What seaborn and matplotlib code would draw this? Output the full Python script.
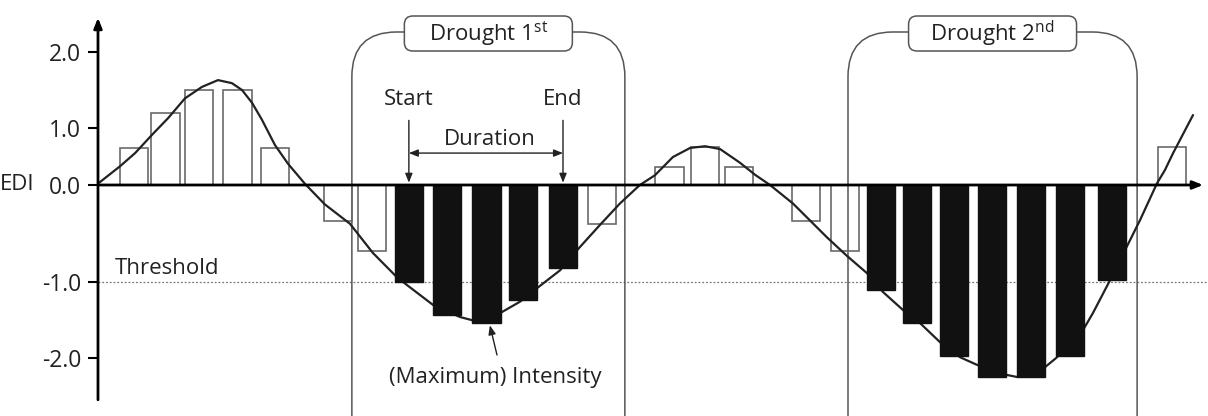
import numpy as np
import matplotlib
matplotlib.use("Agg")
import matplotlib.pyplot as plt
from matplotlib.patches import FancyBboxPatch
import seaborn as sns

# time step of each bar and its EDI value
bar_t = [0.95, 1.8, 2.69, 3.72, 4.73, 6.4, 7.31, 8.29, 9.31, 10.36, 11.33, 12.4, 13.45,
         15.24, 16.19, 17.09, 18.88, 19.91, 20.88, 21.83, 22.83, 23.83, 24.87, 25.91,
         27.04, 28.65]
bar_edi = [0.65, 1.2, 1.5, 1.5, 0.65, -0.37, -0.68, -1.0, -1.43, -1.54, -1.24, -0.86,
           -0.40, 0.32, 0.67, 0.32, -0.37, -0.68, -1.11, -1.54, -1.97, -2.25, -2.25,
           -1.97, -0.98, 0.67]
# 0 = no drought, 1 = first drought event, 2 = second drought event
bar_event = [0] * 7 + [1] * 5 + [0] * 6 + [2] * 7 + [0]

# smooth EDI curve
curve_t = [0.0, 0.05, 0.59, 0.99, 1.44, 1.87, 2.32, 2.77, 3.2, 3.57, 3.84, 4.11, 4.37,
           4.72, 5.07, 5.52, 6.05, 6.72, 7.33, 7.97, 8.24, 8.93, 9.65, 10.19, 10.72,
           11.25, 11.71, 12.32, 12.85, 13.39, 13.92, 14.45, 14.85, 15.33, 15.79, 16.19,
           16.59, 17.12, 17.52, 17.92, 18.53, 19.44, 19.97, 20.51, 20.93, 21.47, 21.92,
           22.45, 22.99, 23.44, 24.21, 24.51, 25.23, 25.55, 26.27, 26.53, 26.99, 27.39,
           27.79, 28.24, 28.45, 28.67, 29.2]
curve_edi = [0.03, 0.05, 0.33, 0.56, 0.88, 1.13, 1.39, 1.54, 1.63, 1.59, 1.5, 1.33, 1.11,
             0.7, 0.37, 0.02, -0.2, -0.4, -0.70, -0.95, -1.04, -1.3, -1.46, -1.53,
             -1.41, -1.26, -1.08, -0.88, -0.64, -0.41, -0.19, 0.0, 0.17, 0.49, 0.65,
             0.68, 0.63, 0.39, 0.18, 0.0, -0.19, -0.54, -0.73, -0.91, -1.13, -1.37,
             -1.54, -1.79, -1.99, -2.09, -2.22, -2.25, -2.13, -2.0, -1.63, -1.41, -0.98,
             -0.67, -0.36, 0.03, 0.26, 0.56, 1.17]

y_ticks = [-2.0, -1.0, 0.0, 1.0, 2.0]
threshold = -1.0
event_names = ['Drought 1', 'Drought 2']
event_sup = ['st', 'nd']

sns.set_theme(style='white')
plt.rcParams['font.family'] = ['Open Sans', 'DejaVu Sans']
plt.rcParams['mathtext.fontset'] = 'custom'
plt.rcParams['mathtext.rm'] = 'Open Sans'
plt.rcParams['axes.unicode_minus'] = False

TXT = '#222222'
FS = 16

fig = plt.figure(figsize=(12.08, 4.16), dpi=100)
ax = fig.add_axes([0, 0, 1, 1])
ax.set_facecolor('white')

# the original diagram is not drawn to scale on the y axis: piecewise linear scale
knots_v = [-4, -2, -1, 0, 1, 2, 4]
knots_p = [-325, -173, -97, 0, 57, 133, 285]
ax.set_yscale('function',
              functions=(lambda v: np.interp(v, knots_v, knots_p),
                         lambda p: np.interp(p, knots_p, knots_v)))
x0, x1 = -2.613, 29.6
ax.set_xlim(x0, x1)
ax.set_ylim(-2.763, 2.684)

t = np.array(bar_t)
v = np.array(bar_edi)
ev = np.array(bar_event)
normal = ev == 0
ax.bar(t[normal], v[normal], width=0.75, facecolor='none', edgecolor='#6a6a6a',
       linewidth=1.2, zorder=2)
ax.bar(t[~normal], v[~normal], width=0.75, color='#111111', edgecolor='#111111',
       linewidth=1, zorder=4)

sns.lineplot(x=curve_t, y=curve_edi, sort=False, color='#222222', linewidth=1.6,
             ax=ax, zorder=3)

# threshold
ax.axhline(threshold, xmin=(0 - x0) / (x1 - x0), xmax=1, color='#777777',
           linestyle=(0, (1.5, 1.5)), linewidth=0.9, zorder=1)
ax.text(0.45, threshold + 0.03, 'Threshold', fontsize=FS, color=TXT, ha='left',
        va='bottom')

# axes with arrows
for s in ax.spines.values():
    s.set_visible(False)
ax.spines['left'].set_position(('data', 0))
ax.set_xticks([])
ax.set_yticks(y_ticks)
ax.set_yticklabels([f'{y:.1f}' for y in y_ticks])
ax.tick_params(axis='y', direction='out', length=7, width=1.5, color='black',
               labelsize=FS + 0.5, labelcolor=TXT, pad=5, left=True)
arrow_kw = dict(arrowstyle='-|>,head_length=0.5,head_width=0.2', color='black', lw=2,
                shrinkA=0, shrinkB=0)
ax.annotate('', xy=(0, 2.45), xytext=(0, -2.55), arrowprops=arrow_kw, zorder=6)
ax.annotate('', xy=(29.47, 0), xytext=(0, 0), arrowprops=arrow_kw, zorder=6)
ax.text(0.0, 0.0, 'EDI', transform=ax.get_yaxis_transform(), fontsize=FS, color=TXT,
        ha='left', va='center')

# drought event frames
aspect = 1208 / 416
frames = [(6.77, 14.05), (20.0, 27.71)]
for (a, b), name, sup in zip(frames, event_names, event_sup):
    fa = (a - x0) / (x1 - x0)
    fb = (b - x0) / (x1 - x0)
    ax.add_patch(FancyBboxPatch((fa, -0.2), fb - fa, 1.2 - 32 / 416,
                                boxstyle='round,pad=0,rounding_size=0.037',
                                mutation_aspect=aspect, transform=ax.transAxes,
                                facecolor='none', edgecolor='#555555', lw=1.1,
                                zorder=1))
    fc = (fa + fb) / 2
    w = 168 / 1208
    ax.add_patch(FancyBboxPatch((fc - w / 2, 1 - 51 / 416), w, 35 / 416,
                                boxstyle='round,pad=0,rounding_size=0.007',
                                mutation_aspect=aspect, transform=ax.transAxes,
                                facecolor='white', edgecolor='#555555', lw=1.1,
                                zorder=7))
    ax.text(fc, 1 - 34 / 416, name + r'$^{\mathrm{' + sup + '}}$', transform=ax.transAxes,
            fontsize=FS, color=TXT, ha='center', va='center', zorder=8)

# start / end / duration of the first event
d1 = t[ev == 1]
t_start, t_end = d1[0], d1[-1]
small = dict(arrowstyle='-|>,head_length=0.45,head_width=0.18', color='#222222', lw=1,
             shrinkA=0, shrinkB=0)
for tt, lab in [(t_start, 'Start'), (t_end, 'End')]:
    ax.annotate('', xy=(tt, 0.04), xytext=(tt, 1.1), arrowprops=small, zorder=6)
    ax.text(tt, 1.37, lab, fontsize=FS, color=TXT, ha='center', va='center')
ax.annotate('', xy=(t_end, 0.56), xytext=(t_start, 0.56),
            arrowprops=dict(small, arrowstyle='<|-|>,head_length=0.45,head_width=0.18'))
ax.text((t_start + t_end) / 2 + 0.1, 0.79, 'Duration', fontsize=FS, color=TXT,
        ha='center', va='center')

# maximum intensity
ax.annotate('', xy=(10.45, -1.57), xytext=(10.64, -1.96), arrowprops=small, zorder=6)
ax.text(10.59, -2.25, '(Maximum) Intensity', fontsize=FS, color=TXT, ha='center',
        va='center')

fig.savefig('out.png', dpi=100)
